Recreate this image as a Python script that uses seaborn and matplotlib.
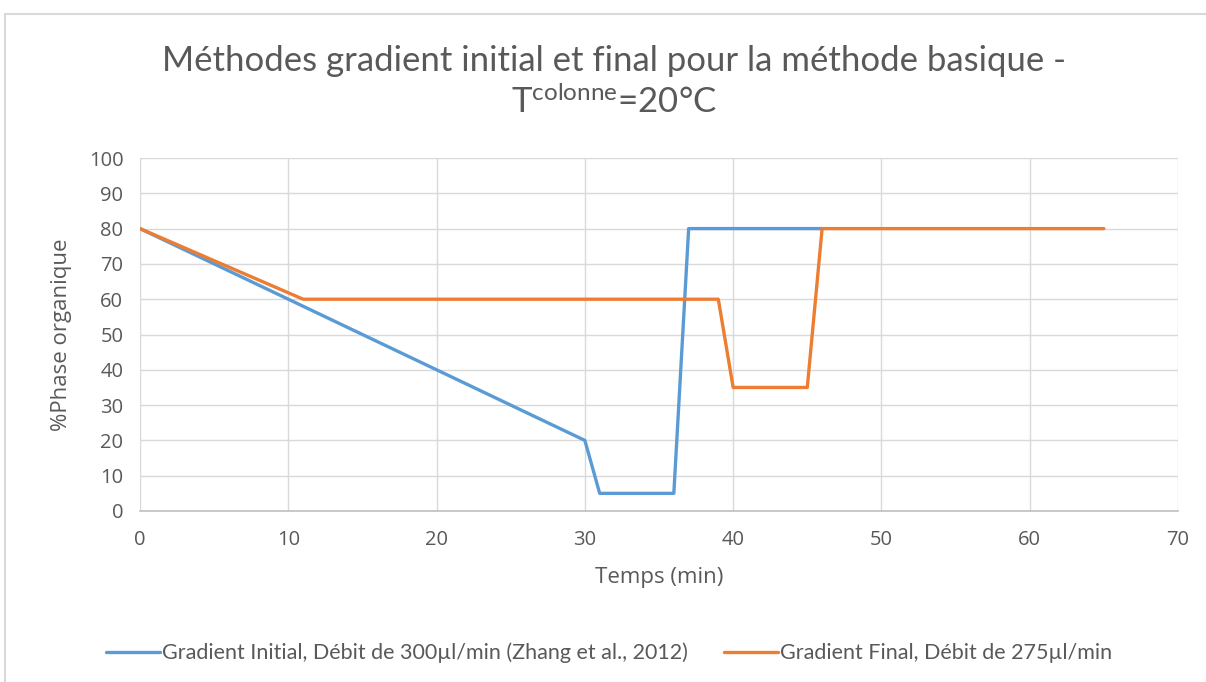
import matplotlib
matplotlib.use("Agg")
import matplotlib.pyplot as plt
from matplotlib.lines import Line2D
import seaborn as sns
import pandas as pd

# Gradient programmes: time (min) vs % organic phase
temps_initial = [0, 30, 31, 36, 37, 46]
phase_initial = [80, 20, 5, 5, 80, 80]
temps_final = [0, 11, 39, 40, 45, 46, 65]
phase_final = [80, 60, 60, 35, 35, 80, 80]

label_initial = "Gradient Initial, Débit de 300µl/min (Zhang et al., 2012)"
label_final = "Gradient Final, Débit de 275µl/min"

x_ticks = list(range(0, 71, 10))
y_ticks = list(range(0, 101, 10))

df = pd.concat([
    pd.DataFrame({"Temps": temps_initial, "Phase": phase_initial, "Série": label_initial}),
    pd.DataFrame({"Temps": temps_final, "Phase": phase_final, "Série": label_final}),
], ignore_index=True)

sns.set_theme(style="white")
plt.rcParams["font.family"] = ["Open Sans", "DejaVu Sans"]

text_col = "#595959"
grid_col = "#D9D9D9"
palette = {label_initial: "#5B9BD5", label_final: "#ED7D31"}
narrow = ["Lato", "DejaVu Sans"]

fig = plt.figure(figsize=(12.06, 6.82), dpi=100)
ax = fig.add_axes([140 / 1206, 1 - 511 / 682, (1178 - 140) / 1206, (511 - 158) / 682])

sns.lineplot(data=df, x="Temps", y="Phase", hue="Série", palette=palette,
             estimator=None, sort=False, linewidth=2.4, ax=ax, legend=False)

ax.set_xlim(0, 70)
ax.set_ylim(0, 100)
ax.set_xticks(x_ticks)
ax.set_yticks(y_ticks)
ax.grid(True, color=grid_col, linewidth=1.0)
ax.set_axisbelow(True)
for side in ["top", "right", "left"]:
    ax.spines[side].set_visible(False)
ax.spines["bottom"].set_color("#BFBFBF")
ax.spines["bottom"].set_linewidth(1.2)
ax.tick_params(axis="x", length=0, labelsize=14.5, colors=text_col, pad=14)
ax.tick_params(axis="y", length=0, labelsize=14.5, colors=text_col, pad=12)

ax.set_xlabel("Temps (min)", fontsize=16, color=text_col, labelpad=12)
ax.set_ylabel("%Phase organique", fontsize=16, color=text_col, labelpad=12)

# Title (two lines, superscript on the second)
fig.text(0.509, 1 - 61 / 682, "Méthodes gradient initial et final pour la méthode basique -",
         ha="center", va="center", fontsize=25, color=text_col, family=narrow)
fig.text(0.509, 1 - 102 / 682, r"$\mathregular{T^{colonne}}$=20°C",
         ha="center", va="center", fontsize=25, color=text_col, family=narrow)

# Legend below the axes
handles = [Line2D([0], [0], color=palette[label_initial], linewidth=2.4),
           Line2D([0], [0], color=palette[label_final], linewidth=2.4)]
leg = fig.legend(handles, [label_initial, label_final], loc="center",
                 bbox_to_anchor=(0.505, 1 - 653 / 682), ncol=2, frameon=False,
                 handlelength=2.5, handletextpad=0.1, columnspacing=1.7,
                 prop={"family": narrow, "size": 15.5})
for t in leg.get_texts():
    t.set_color(text_col)

# Chart-area frame edges
fig.add_artist(Line2D([5 / 1206, 1], [1 - 14 / 682, 1 - 14 / 682], color="#D9D9D9", linewidth=1.5))
fig.add_artist(Line2D([5 / 1206, 5 / 1206], [0, 1 - 14 / 682], color="#D9D9D9", linewidth=1.5))

fig.savefig("out.png", dpi=100, facecolor="white")
